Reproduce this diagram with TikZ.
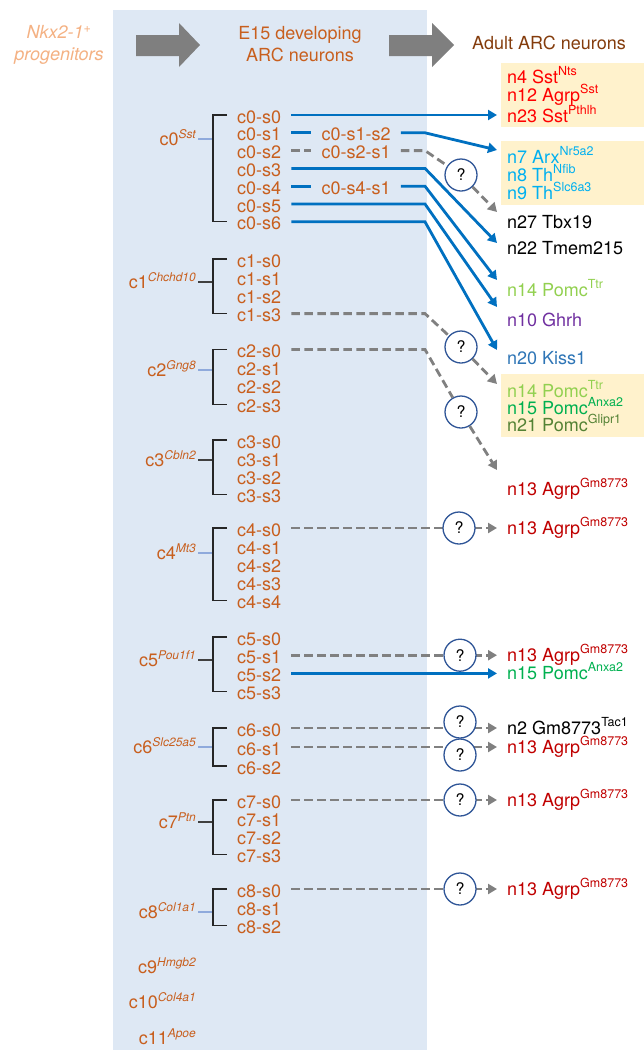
\documentclass[tikz,border=0pt]{standalone}
\usepackage{fontspec}
\setmainfont{TeX Gyre Heros}
\usepackage{tikz}
\usetikzlibrary{arrows.meta}
\usetikzlibrary{positioning}
\definecolor{bgblue}{RGB}{222,232,244}
\definecolor{peach}{RGB}{255,242,204}
\definecolor{orng}{RGB}{200,95,30}
\definecolor{progpeach}{RGB}{244,177,131}
\definecolor{adultbrown}{RGB}{132,60,12}
\definecolor{hdrgrey}{RGB}{127,127,127}
\definecolor{lineblue}{RGB}{0,112,192}
\definecolor{linegrey}{RGB}{128,128,128}
\definecolor{qblue}{RGB}{47,85,151}
\definecolor{stubblue}{RGB}{143,170,220}
\definecolor{stubdark}{RGB}{64,64,64}
\definecolor{sstred}{RGB}{255,0,0}
\definecolor{thcyan}{RGB}{0,176,240}
\definecolor{pomclight}{RGB}{146,208,80}
\definecolor{ghrhpurple}{RGB}{112,48,160}
\definecolor{kissblue}{RGB}{46,117,182}
\definecolor{pomcgreen}{RGB}{0,176,80}
\definecolor{pomcolive}{RGB}{84,130,53}
\definecolor{agrpred}{RGB}{192,0,0}
\newcommand{\up}[1]{\raisebox{8pt}{\fontsize{12.5}{12.5}\selectfont #1}}
\newcommand{\gn}[1]{\raisebox{7.5pt}{\fontsize{12}{12}\selectfont\itshape #1}}
\tikzset{big/.style = {font=\fontsize{18}{22}\selectfont}}
\tikzset{sub/.style = {big, text=orng, anchor=west, inner xsep=10pt, inner ysep=0pt,
                       text height=16pt, text depth=0pt}}
\tikzset{clab/.style = {big, text=orng, anchor=east, inner xsep=2pt, inner ysep=0pt,
                        text height=14pt, text depth=1pt}}
\tikzset{adult/.style = {big, anchor=west, inner xsep=10pt, inner ysep=0pt,
                         text height=14pt, text depth=1pt}}
\tikzset{qmark/.style = {circle, draw=qblue, line width=1.3pt, fill=white,
                         minimum size=32pt, inner sep=0pt, font=\fontsize{16}{16}\selectfont}}
\tikzset{bluelink/.style = {draw=lineblue, line width=2.8pt}}
\tikzset{greylink/.style = {draw=linegrey, line width=2.8pt, dash pattern=on 8.5pt off 4.5pt}}
\tikzset{bluearr/.style = {bluelink, -{Triangle[length=9pt,width=10pt]}}}
\tikzset{greyarr/.style = {greylink, -{Triangle[length=9pt,width=10pt]}}}
\tikzset{brk/.style = {draw=black!85, line width=1.1pt}}
\tikzset{cstub/.style = {line width=1.3pt}}

\begin{document}
\begin{tikzpicture}[x=1pt, y=-1pt]
  \useasboundingbox (0,0) rectangle (644,1050);
  \fill[bgblue] (113,10) rectangle (427,1050);
  \fill[peach] (501,63) rectangle (644,127);
  \fill[peach] (501,141) rectangle (644,205);
  \fill[peach] (501,374) rectangle (644,437);
  \foreach \x/\t in {136/64, 389/65}
    \fill[hdrgrey] (\x,35) -- ({\x+43},35) -- ({\x+43},23) -- ({\x+\t},45)
      -- ({\x+43},67) -- ({\x+43},56) -- (\x,56) -- cycle;

  \node[big, text=progpeach, align=center, font=\fontsize{18}{22}\selectfont\itshape] (prog)
    at (59,45) {Nkx2-1\textsuperscript{+}\\progenitors};
  \node[big, text=orng, align=center] (e15) at (300,44) {E15 developing\\ARC neurons};
  \node[big, text=adultbrown] (adult) at (549,43) {Adult ARC neurons};

  \coordinate (bend) at (425,0);
  \foreach \c/\g/\y/\st in {0/Sst/139/stubblue, 1/Chchd10/282/stubdark, 2/Gng8/370/stubblue,
                            3/Cbln2/460/stubdark, 4/Mt3/553/stubblue, 5/Pou1f1/660/stubdark,
                            6/Slc25a5/747/stubblue, 7/Ptn/822/stubdark, 8/Col1a1/912/stubblue} {
    \node[clab] (c\c) at (198,\y) {c\c\gn{\g}};
    \coordinate (b\c) at (213,\y);
    \draw[cstub, draw=\st] (c\c.east) -- (b\c);
  }
  \foreach \c/\g/\y in {9/Hmgb2/967, 10/Col4a1/1002, 11/Apoe/1038}
    \node[clab] (c\c) at (198,\y) {c\c\gn{\g}};

  \foreach \c/\n/\y/\d in {0/6/115/17.8, 1/3/259/18.2, 2/3/349.5/18.2, 3/3/440/18.2,
                           4/4/528/18.2, 5/3/637/18.2, 6/2/728/19, 7/3/800/18.2, 8/2/889/18.2} {
    \foreach \s in {0,...,\n}
      \node[sub] (c\c-s\s) at (227,{\y+\s*\d}) {c\c-s\s};
    \draw[brk] (c\c-s0.west) -| (b\c) |- (c\c-s\n.west);
  }
  \node[sub, right=20pt of c0-s1] (c0-s1-s2) {c0-s1-s2};
  \node[sub, right=20pt of c0-s2] (c0-s2-s1) {c0-s2-s1};
  \node[sub, right=20pt of c0-s4] (c0-s4-s1) {c0-s4-s1};

  \node[adult, text=sstred] (n4) at (497,77) {n4 Sst\up{Nts}};
  \node[adult, text=sstred] (n12) at (497,95) {n12 Agrp\up{Sst}};
  \node[adult, text=sstred] (n23) at (497,116) {n23 Sst\up{Pthlh}};
  \node[adult, text=thcyan] (n7) at (497,157) {n7 Arx\up{Nr5a2}};
  \node[adult, text=thcyan] (n8) at (497,175) {n8 Th\up{Nfib}};
  \node[adult, text=thcyan] (n9) at (497,193) {n9 Th\up{Slc6a3}};
  \node[adult] (n27) at (497,222) {n27 Tbx19};
  \node[adult] (n22) at (497,248) {n22 Tmem215};
  \node[adult, text=pomclight] (n14a) at (497,290) {n14 Pomc\up{Ttr}};
  \node[adult, text=ghrhpurple] (n10) at (497,320) {n10 Ghrh};
  \node[adult, text=kissblue] (n20) at (497,358) {n20 Kiss1};
  \node[adult, text=pomclight] (n14b) at (497,391) {n14 Pomc\up{Ttr}};
  \node[adult, text=pomcgreen] (n15a) at (497,408) {n15 Pomc\up{Anxa2}};
  \node[adult, text=pomcolive] (n21) at (497,425) {n21 Pomc\up{Glipr1}};
  \node[adult, text=agrpred] (n13a) at (497,489) {n13 Agrp\up{Gm8773}};
  \node[adult, text=agrpred] (n13b) at (497,528) {n13 Agrp\up{Gm8773}};
  \node[adult, text=agrpred] (n13c) at (497,655.2) {n13 Agrp\up{Gm8773}};
  \node[adult, text=pomcgreen] (n15b) at (497,673.4) {n15 Pomc\up{Anxa2}};
  \node[adult] (n2) at (497,728) {n2 Gm8773\up{Tac1}};
  \node[adult, text=agrpred] (n13d) at (497,747) {n13 Agrp\up{Gm8773}};
  \node[adult, text=agrpred] (n13e) at (497,800) {n13 Agrp\up{Gm8773}};
  \node[adult, text=agrpred] (n13f) at (497,889) {n13 Agrp\up{Gm8773}};

  \node[qmark] (q1) at (461,175) {?};
  \node[qmark] (q2) at (461,347) {?};
  \node[qmark] (q3) at (461,412) {?};

  \draw[bluearr] (c0-s0.east) -- (c0-s0.east -| n23.west);
  \draw[bluelink] (c0-s1.east) -- (c0-s1-s2.west);
  \draw[bluearr] (c0-s1-s2.east) -- (c0-s1-s2.east -| bend) -- ([yshift=7pt]n7.west);
  \draw[greylink] (c0-s2.east) -- (c0-s2-s1.west);
  \draw[greyarr] (c0-s2-s1.east) -- (c0-s2-s1.east -| bend) -- (q1) -- ([yshift=10pt]n27.west);
  \draw[bluearr] (c0-s3.east) -- (c0-s3.east -| bend) -- ([yshift=5pt]n22.west);
  \draw[bluelink] (c0-s4.east) -- (c0-s4-s1.west);
  \draw[bluearr] (c0-s4-s1.east) -- (c0-s4-s1.east -| bend) -- ([yshift=10pt]n14a.west);
  \draw[bluearr] (c0-s5.east) -- (c0-s5.east -| bend) -- ([yshift=13pt]n10.west);
  \draw[bluearr] (c0-s6.east) -- (c0-s6.east -| bend) -- ([yshift=8pt]n20.west);
  \draw[greyarr] (c1-s3.east) -- (c1-s3.east -| bend) -- (q2) -- ([yshift=7pt]n14b.west);
  \draw[greyarr] (c2-s0.east) -- (c2-s0.east -| bend) -- (q3) -- ([yshift=19pt]n13a.west);
  \draw[greyarr] (c4-s0.east) -- (c4-s0.east -| n13b.west);
  \draw[greyarr] (c5-s1.east) -- (c5-s1.east -| n13c.west);
  \draw[bluearr] (c5-s2.east) -- (c5-s2.east -| n15b.west);
  \draw[greyarr] (c6-s0.east) -- (c6-s0.east -| n2.west);
  \draw[greyarr] (c6-s1.east) -- (c6-s1.east -| n13d.west);
  \draw[greyarr] (c7-s0.east) -- (c7-s0.east -| n13e.west);
  \draw[greyarr] (c8-s0.east) -- (c8-s0.east -| n13f.west);

  \node[qmark] (q4) at (459,528) {?};
  \node[qmark] (q5) at (460,655.2) {?};
  \node[qmark] (q6) at (460,722) {?};
  \node[qmark] (q7) at (460,755) {?};
  \node[qmark] (q8) at (460,800) {?};
  \node[qmark] (q9) at (460,889) {?};
\end{tikzpicture}
\end{document}
